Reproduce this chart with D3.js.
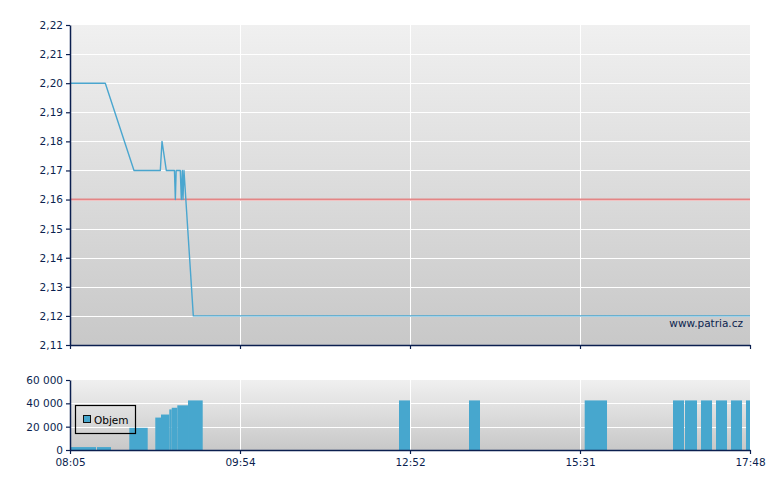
<!DOCTYPE html>
<html><head><meta charset="utf-8">
<script src="https://cdn.jsdelivr.net/npm/d3@7"></script>
<style>
body{margin:0;background:#fff;}
svg{display:block;font-family:"DejaVu Sans",Verdana,sans-serif;}
</style></head>
<body><svg id="c" width="780" height="490"></svg>
<script>
// ---- data ----
const xTickLabels = ["08:05","09:54","12:52","15:31","17:48"];
const priceTimes = ["08:05:00","08:27:38","08:46:02","09:02:54","09:04:00","09:06:45","09:11:58","09:12:33","09:13:04","09:15:43","09:16:22","09:17:00","09:17:27","09:18:05","09:24:04","17:48:00"];
const priceValues = [2.20,2.20,2.17,2.17,2.18,2.17,2.17,2.16,2.17,2.17,2.16,2.17,2.16,2.17,2.12,2.12];
const refPrice = 2.16;
const priceTicks = [2.11,2.12,2.13,2.14,2.15,2.16,2.17,2.18,2.19,2.20,2.21,2.22];
const volStart = ["08:05:27","08:22:19","08:43:01","08:59:41","09:03:21","09:08:40","09:10:13","09:13:48","09:20:40","12:40:29","13:47:11","15:34:47","16:45:57","16:55:37","17:08:31","17:20:36","17:32:41","17:44:46"];
const volEnd   = ["08:21:40","08:31:17","08:54:49","09:03:21","09:08:40","09:10:13","09:13:48","09:20:40","09:30:05","12:52:00","13:57:28","15:52:46","16:54:49","17:05:17","17:17:23","17:29:28","17:41:33","17:48:00"];
const volValues = [2500,2500,19000,27800,30400,34800,36200,38300,42500,42500,42500,42500,42500,42500,42500,42500,42500,42500];
const volTicks = [0,20000,40000,60000];
const legendLabel = "Objem";
const watermark = "www.patria.cz";

// ---- layout ----
const L = 70, R = 750, pTop = 25, pBot = 345, vTop = 380, vBot = 450;
const navy = "#0b1f4f", lineBlue = "#4aa6cf", barBlue = "#47a7ce", red = "#e38585";

const toMin = s => { const p = s.split(":").map(Number); return p[0]*60 + p[1] + (p[2]||0)/60; };
const x = d3.scaleLinear()
  .domain(xTickLabels.map(toMin))
  .range(xTickLabels.map((d,i)=> L + i*(R-L)/(xTickLabels.length-1)));
const yP = d3.scaleLinear().domain([2.11,2.22]).range([pBot,pTop]);
const yV = d3.scaleLinear().domain([0,60000]).range([vBot,vTop]);

const svg = d3.select("#c");
const defs = svg.append("defs");
const g = defs.append("linearGradient").attr("id","bg").attr("x1",0).attr("y1",0).attr("x2",0).attr("y2",1);
g.append("stop").attr("offset","0%").attr("stop-color","#f0f0f0");
g.append("stop").attr("offset","100%").attr("stop-color","#c8c8c8");

// backgrounds
svg.append("rect").attr("x",L).attr("y",pTop).attr("width",R-L).attr("height",pBot-pTop).attr("fill","url(#bg)");
svg.append("rect").attr("x",L).attr("y",vTop).attr("width",R-L).attr("height",vBot-vTop).attr("fill","url(#bg)");

// grid: price
const grid = svg.append("g").attr("stroke","#fff").attr("stroke-width",1);
grid.selectAll(".hp").data(priceTicks.slice(1,-1)).join("line")
  .attr("x1",L).attr("x2",R).attr("y1",d=>Math.round(yP(d))+0.5).attr("y2",d=>Math.round(yP(d))+0.5);
const xTickVals = xTickLabels.map(toMin);
grid.selectAll(".vp").data(xTickVals.slice(1,-1)).join("line")
  .attr("x1",d=>Math.round(x(d))+0.5).attr("x2",d=>Math.round(x(d))+0.5).attr("y1",pTop).attr("y2",pBot);
// grid: volume
const grid2 = svg.append("g").attr("stroke","#fff").attr("stroke-width",1);
grid2.selectAll(".hv").data(volTicks.slice(1,-1)).join("line")
  .attr("x1",L).attr("x2",R).attr("y1",d=>Math.round(yV(d))+0.5).attr("y2",d=>Math.round(yV(d))+0.5);
grid2.selectAll(".vv").data(xTickVals.slice(1,-1)).join("line")
  .attr("x1",d=>Math.round(x(d))+0.5).attr("x2",d=>Math.round(x(d))+0.5).attr("y1",vTop).attr("y2",vBot);

// reference line
svg.append("line").attr("x1",L).attr("x2",R).attr("y1",yP(refPrice)).attr("y2",yP(refPrice))
  .attr("stroke",red).attr("stroke-width",2);

// price line
const pts = priceTimes.map((t,i)=>[toMin(t), priceValues[i]]);
svg.append("path").datum(pts)
  .attr("d", d3.line().x(d=>x(d[0])).y(d=>yP(d[1])))
  .attr("fill","none").attr("stroke",lineBlue).attr("stroke-width",1.4).attr("stroke-linejoin","round");

// watermark
svg.append("text").attr("x",743).attr("y",327).attr("text-anchor","end")
  .attr("font-size","10.5px").attr("fill",navy).text(watermark);

// volume bars
svg.append("g").selectAll("rect").data(volValues).join("rect")
  .attr("x",(d,i)=>x(toMin(volStart[i])))
  .attr("width",(d,i)=>x(toMin(volEnd[i]))-x(toMin(volStart[i])))
  .attr("y",d=>yV(d)).attr("height",d=>vBot-yV(d))
  .attr("fill",barBlue);

// axes
function styleAxis(sel){
  sel.selectAll(".domain").attr("stroke",navy).attr("stroke-width",1.5);
  sel.selectAll(".tick line").attr("stroke",navy).attr("stroke-width",1.2);
  sel.selectAll("text").attr("fill",navy).attr("font-size","10.5px").attr("font-family","'DejaVu Sans',Verdana,sans-serif");
}
const fmtP = d => d3.format(".2f")(d).replace(".",",");
const fmtV = d => d3.format(",")(d).replace(/,/g," ");

const ayP = svg.append("g").attr("transform",`translate(${L},0)`)
  .call(d3.axisLeft(yP).tickValues(priceTicks).tickFormat(fmtP).tickSize(4).tickSizeOuter(0).tickPadding(3));
styleAxis(ayP);
const axP = svg.append("g").attr("transform",`translate(0,${pBot})`)
  .call(d3.axisBottom(x).tickValues(xTickVals).tickFormat("").tickSize(4).tickSizeOuter(0));
styleAxis(axP);

const ayV = svg.append("g").attr("transform",`translate(${L},0)`)
  .call(d3.axisLeft(yV).tickValues(volTicks).tickFormat(fmtV).tickSize(4).tickSizeOuter(0).tickPadding(3));
styleAxis(ayV);
const axV = svg.append("g").attr("transform",`translate(0,${vBot})`)
  .call(d3.axisBottom(x).tickValues(xTickVals).tickFormat((d,i)=>xTickLabels[i]).tickSize(4).tickSizeOuter(0).tickPadding(5));
styleAxis(axV);

// legend
const lg = svg.append("g");
lg.append("rect").attr("x",75.5).attr("y",405.5).attr("width",60).attr("height",28)
  .attr("fill","none").attr("stroke","#000").attr("stroke-width",1.2);
lg.append("rect").attr("x",83.5).attr("y",415.5).attr("width",7).attr("height",7)
  .attr("fill",barBlue).attr("stroke","#111").attr("stroke-width",1);
lg.append("text").attr("x",94).attr("y",424).attr("font-size","10.5px").attr("fill","#000").text(legendLabel);
</script></body></html>
